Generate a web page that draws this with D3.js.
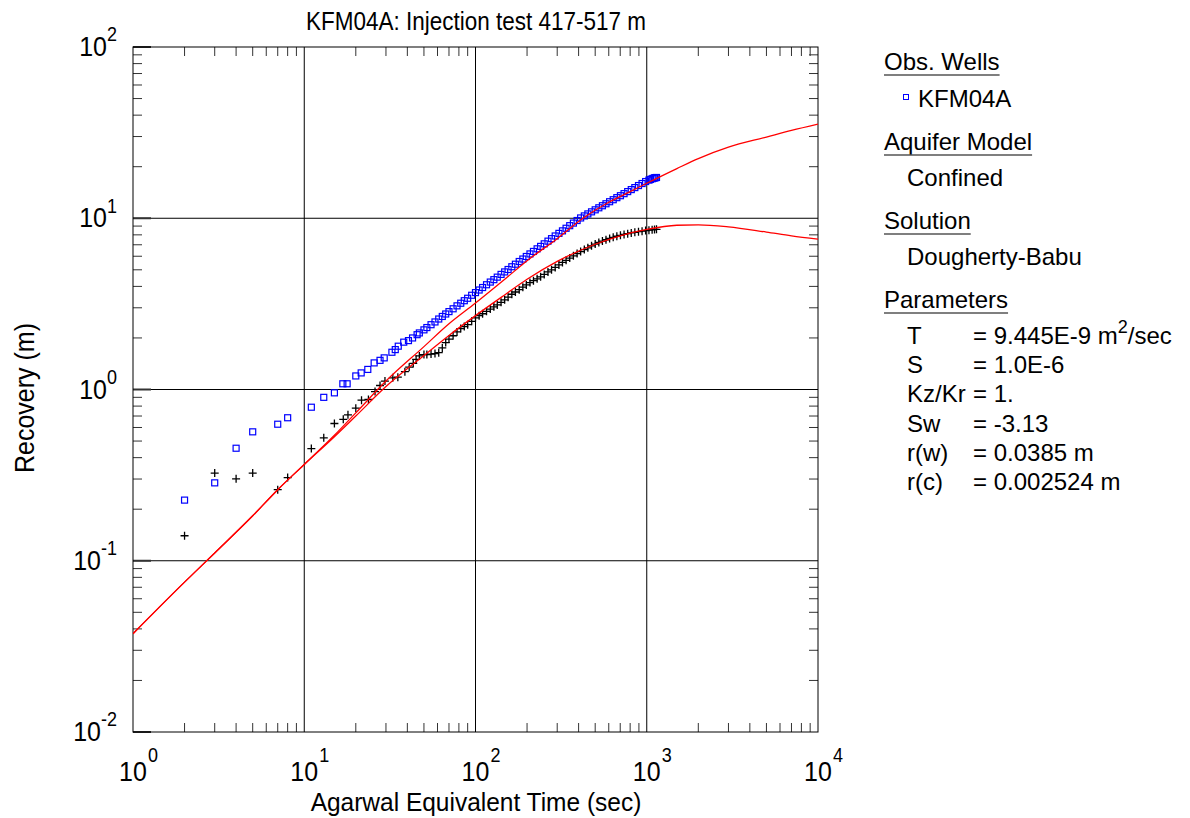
<!DOCTYPE html>
<html>
<head>
<meta charset="utf-8">
<style>
    body { margin: 0; background: #fff; }
    text { font-family: "Liberation Sans", Arial, sans-serif; fill: #000; }
</style>
</head>
<body>
<svg id="chart"></svg>
<script src="https://cdn.jsdelivr.net/npm/d3@7/dist/d3.min.js"></script>
<script>
    let width = 1190,
        height = 818

    // plot box
    let boxL = 133, boxR = 818, boxT = 47, boxB = 732

    // observed recovery, KFM04A (blue squares)
    let blueT = [2, 3, 4, 5, 7, 8, 11, 13, 15, 16.8, 17.8, 20, 21.5, 23.5, 25.6, 27.7, 29.3, 32.5, 34, 35.4, 38.1, 40.6, 42.9, 45.6,
        47, 50, 52, 55, 58, 61, 64, 67, 70, 74, 78, 82, 86, 90, 95, 100, 105, 110, 116, 122, 128, 134, 141, 148, 155, 163, 171,
        180, 189, 198, 208, 218, 229, 240, 252, 265, 278, 292, 307, 322, 338, 355, 373, 392, 411, 432, 453, 476, 500, 525, 551,
        578, 607, 637, 669, 702, 737, 774, 812, 852, 895, 939, 985, 1030, 1050, 1075, 1090, 1110, 1120, 1140]
    let blueV = [0.226, 0.285, 0.454, 0.566, 0.627, 0.684, 0.788, 0.90, 0.956, 1.08, 1.08, 1.20, 1.25, 1.31, 1.43, 1.48, 1.53, 1.65, 1.71, 1.79, 1.89, 1.93, 2.0, 2.09,
        2.14, 2.23, 2.30, 2.39, 2.48, 2.58, 2.67, 2.76, 2.85, 2.96, 3.08, 3.19, 3.30, 3.41, 3.55, 3.68, 3.81, 3.94, 4.09, 4.24, 4.38, 4.53, 4.70, 4.86, 5.02, 5.21, 5.39,
        5.59, 5.78, 5.98, 6.19, 6.40, 6.63, 6.85, 7.09, 7.35, 7.60, 7.88, 8.16, 8.44, 8.74, 9.05, 9.37, 9.70, 10.04, 10.32, 10.60, 10.90, 11.20, 11.51, 11.83,
        12.15, 12.49, 12.83, 13.19, 13.54, 13.92, 14.31, 14.70, 15.10, 15.52, 15.95, 16.38, 16.7, 16.85, 17.0, 17.1, 17.2, 17.25, 17.3]

    // second series (black crosses)
    let crossT = [2, 3, 4, 5, 7, 8, 11, 13, 15, 16.9, 18, 20, 21.6, 23.7, 25.9, 27.7, 29.6, 32.9, 35.2, 38.7, 41, 43.3,
        45, 47, 50, 52, 55, 58, 61, 64, 67, 70, 74, 78, 82, 86, 90, 95, 100, 105, 110, 116, 122, 128, 134, 141, 148, 155, 163, 171,
        180, 189, 198, 208, 218, 229, 240, 252, 265, 278, 292, 307, 322, 338, 355, 373, 392, 411, 432, 453, 476, 500, 525, 551,
        578, 607, 637, 669, 702, 737, 774, 812, 852, 895, 939, 985, 1030, 1075, 1110, 1140]
    let crossV = [0.140, 0.325, 0.301, 0.325, 0.26, 0.306, 0.452, 0.522, 0.633, 0.67, 0.711, 0.778, 0.866, 0.874, 0.973, 1.055, 1.12, 1.17, 1.18, 1.27, 1.35, 1.42,
        1.50, 1.57, 1.60, 1.60, 1.61, 1.62, 1.64, 1.75, 1.88, 1.97, 2.06, 2.17, 2.27, 2.33, 2.39, 2.50, 2.62, 2.70, 2.77, 2.86, 2.95, 3.04, 3.12, 3.23, 3.34, 3.46, 3.60, 3.71,
        3.83, 3.96, 4.08, 4.21, 4.32, 4.43, 4.55, 4.70, 4.86, 5.00, 5.16, 5.34, 5.52, 5.68, 5.85, 6.03, 6.22, 6.39, 6.56, 6.72, 6.90, 7.07, 7.22, 7.36,
        7.49, 7.62, 7.74, 7.85, 7.95, 8.04, 8.13, 8.21, 8.28, 8.35, 8.41, 8.47, 8.52, 8.57, 8.60, 8.62]

    // Dougherty-Babu type curves (red)
    let fitUpT = [1, 2, 3, 5, 7, 10, 15, 20, 30, 50, 70, 100, 150, 200, 300, 424, 600, 800, 1000, 1500, 2000, 3000, 5000, 7000, 10000]
    let fitUpV = [0.0375, 0.075, 0.111, 0.183, 0.26, 0.365, 0.54, 0.73, 1.12, 1.78, 2.42, 3.2, 4.45, 5.65, 7.6, 10, 12.4, 14.3, 16.0, 19.5, 22.3, 26, 29.8, 32.6, 35.5]
    let fitLowT = [1, 2, 3, 5, 7, 10, 15, 20, 30, 50, 70, 100, 150, 200, 300, 500, 700, 1000, 1500, 2000, 3000, 5000, 7000, 10000]
    let fitLowV = [0.0375, 0.075, 0.111, 0.183, 0.26, 0.365, 0.53, 0.70, 1.04, 1.58, 2.07, 2.7, 3.6, 4.4, 5.6, 7.05, 7.9, 8.6, 9.1, 9.15, 8.9, 8.3, 7.9, 7.55]

    let xDecades = [1, 10, 100, 1000, 10000]
    let yDecades = [0.01, 0.1, 1, 10, 100]

    let params = [
        ["T", "= 9.445E-9 m", "2", "/sec"],
        ["S", "= 1.0E-6"],
        ["Kz/Kr", "= 1."],
        ["Sw", "= -3.13"],
        ["r(w)", "= 0.0385 m"],
        ["r(c)", "= 0.002524 m"]
    ]

    let svg = d3.select("#chart").attr("width", width).attr("height", height)

    let x = d3.scaleLog().domain([1, 10000]).range([boxL, boxR])
    let y = d3.scaleLog().domain([0.01, 100]).range([boxB, boxT])

    function minors(decades) {
        let out = []
        decades.slice(0, -1).forEach(d => {
            for (let k = 2; k <= 9; k++) out.push(d * k)
        })
        return out
    }

    // text a little taller than wide, as in the original export
    function label(px, py, size, anchor, stretch) {
        return svg.append("text")
            .attr("transform", `translate(${px},${py}) scale(1,${stretch || 1.12})`)
            .attr("text-anchor", anchor).attr("font-size", size)
    }

    // grid
    let grid = svg.append("g").attr("stroke", "#000").attr("stroke-width", 1)
    xDecades.slice(1, -1).forEach(d => {
        grid.append("line").attr("x1", x(d)).attr("x2", x(d)).attr("y1", boxT).attr("y2", boxB)
    })
    yDecades.slice(1, -1).forEach(d => {
        grid.append("line").attr("x1", boxL).attr("x2", boxR).attr("y1", y(d)).attr("y2", y(d))
    })

    // tick marks on all four sides, pointing in
    let ticks = svg.append("g").attr("stroke", "#333").attr("stroke-width", 1)
    minors(xDecades).forEach(v => {
        ticks.append("line").attr("x1", x(v)).attr("x2", x(v)).attr("y1", boxB).attr("y2", boxB - 9)
        ticks.append("line").attr("x1", x(v)).attr("x2", x(v)).attr("y1", boxT).attr("y2", boxT + 9)
    })
    minors(yDecades).forEach(v => {
        ticks.append("line").attr("x1", boxL).attr("x2", boxL + 9).attr("y1", y(v)).attr("y2", y(v))
        ticks.append("line").attr("x1", boxR).attr("x2", boxR - 9).attr("y1", y(v)).attr("y2", y(v))
    })
    yDecades.forEach(v => {
        ticks.append("line").attr("x1", boxL).attr("x2", boxL + 18).attr("y1", y(v)).attr("y2", y(v)).attr("stroke-width", 2)
    })

    svg.append("rect").attr("x", boxL).attr("y", boxT).attr("width", boxR - boxL).attr("height", boxB - boxT)
        .attr("fill", "none").attr("stroke", "#000").attr("stroke-width", 1)

    svg.append("clipPath").attr("id", "clip").append("rect")
        .attr("x", boxL).attr("y", boxT).attr("width", boxR - boxL).attr("height", boxB - boxT)

    // data
    let crosses = crossT.map((t, i) => ({ t: t, v: crossV[i] }))
    let squares = blueT.map((t, i) => ({ t: t, v: blueV[i] }))

    svg.append("g").selectAll("path").data(crosses).enter().append("path")
        .attr("d", "M-4,0H4M0,-4V4")
        .attr("transform", d => `translate(${x(d.t)},${y(d.v)})`)
        .attr("stroke", "#000").attr("stroke-width", 1.3).attr("fill", "none")

    svg.append("g").selectAll("rect").data(squares).enter().append("rect")
        .attr("x", d => x(d.t) - 3).attr("y", d => y(d.v) - 3)
        .attr("width", 6).attr("height", 6)
        .attr("stroke", "#0000ff").attr("stroke-width", 1.2).attr("fill", "none")

    let line = d3.line().x(d => x(d.t)).y(d => y(d.v)).curve(d3.curveMonotoneX)
    let fits = [
        fitUpT.map((t, i) => ({ t: t, v: fitUpV[i] })),
        fitLowT.map((t, i) => ({ t: t, v: fitLowV[i] }))
    ]
    svg.append("g").attr("clip-path", "url(#clip)").selectAll("path").data(fits).enter().append("path")
        .attr("d", line).attr("fill", "none").attr("stroke", "#ff0000").attr("stroke-width", 1.3)

    // tick labels
    xDecades.forEach(d => {
        let e = Math.round(Math.log10(d))
        label(x(d), 781, 25, "middle").text("10")
        label(x(d) + 15, 762, 18, "start").text(e)
    })
    yDecades.forEach(d => {
        let e = Math.round(Math.log10(d))
        let t = label(117, y(d) + 9, 25, "end")
        t.append("tspan").text("10")
        t.append("tspan").attr("dy", -13).attr("font-size", 18).text(e)
    })

    // titles
    label(476, 30, 22.5, "middle", 1.15).text("KFM04A: Injection test 417-517 m")
    label(476, 811, 24.5, "middle", 1.08).text("Agarwal Equivalent Time (sec)")
    svg.append("text").attr("transform", "translate(34,398) rotate(-90) scale(1,1.08)")
        .attr("text-anchor", "middle").attr("font-size", 25).text("Recovery (m)")

    // legend panel
    let lg = svg.append("g").attr("font-size", 24)
    function heading(text, base) {
        let t = lg.append("text").attr("x", 884).attr("y", base).text(text)
        let w = t.node().getComputedTextLength()
        lg.append("line").attr("x1", 884).attr("x2", 884 + w).attr("y1", base + 5).attr("y2", base + 5)
            .attr("stroke", "#555").attr("stroke-width", 1.3)
    }
    heading("Obs. Wells", 70)
    lg.append("rect").attr("x", 903.5).attr("y", 94.5).attr("width", 5).attr("height", 5)
        .attr("fill", "none").attr("stroke", "#0000ff").attr("stroke-width", 1)
    lg.append("text").attr("x", 918).attr("y", 107).text("KFM04A")
    heading("Aquifer Model", 150)
    lg.append("text").attr("x", 907).attr("y", 186).text("Confined")
    heading("Solution", 229)
    lg.append("text").attr("x", 907).attr("y", 265).text("Dougherty-Babu")
    heading("Parameters", 308)
    params.forEach((p, i) => {
        let base = 344 + i * 29.2
        lg.append("text").attr("x", 907).attr("y", base).text(p[0])
        let t = lg.append("text").attr("x", 973).attr("y", base)
        t.append("tspan").text(p[1])
        if (p.length > 2) {
            t.append("tspan").attr("dy", -11).attr("font-size", 18).text(p[2])
            t.append("tspan").attr("dy", 11).text(p[3])
        }
    })
</script>
</body>
</html>
